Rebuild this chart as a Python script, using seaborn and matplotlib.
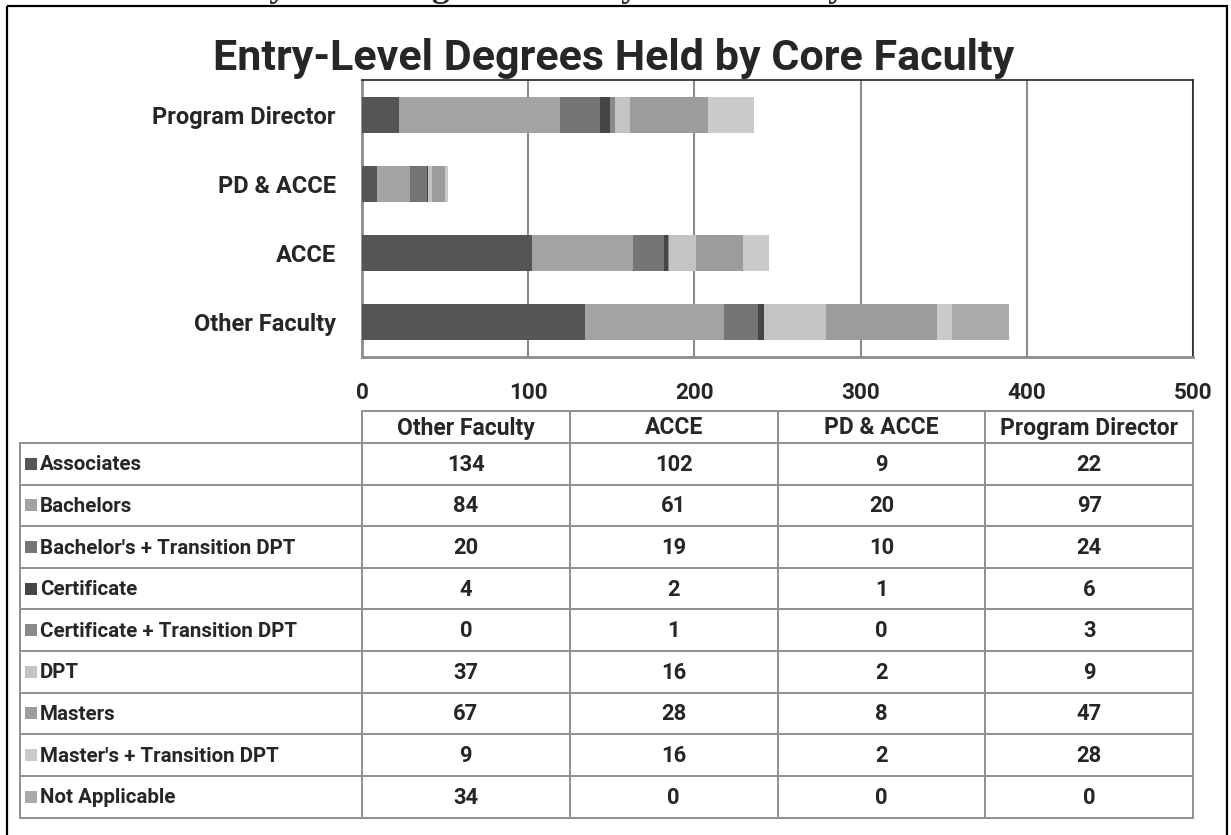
import numpy as np
import pandas as pd
import matplotlib
matplotlib.use("Agg")
import matplotlib.pyplot as plt
from matplotlib.patches import Rectangle
import seaborn as sns

# ---------------- data ----------------
groups = ["Other Faculty", "ACCE", "PD & ACCE", "Program Director"]
series = ["Associates", "Bachelors", "Bachelor's + Transition DPT", "Certificate",
          "Certificate + Transition DPT", "DPT", "Masters",
          "Master's + Transition DPT", "Not Applicable"]
associates = [134, 102, 9, 22]
bachelors = [84, 61, 20, 97]
bachelors_tdpt = [20, 19, 10, 24]
certificate = [4, 2, 1, 6]
certificate_tdpt = [0, 1, 0, 3]
dpt = [37, 16, 2, 9]
masters = [67, 28, 8, 47]
masters_tdpt = [9, 16, 2, 28]
not_applicable = [34, 0, 0, 0]
values = [associates, bachelors, bachelors_tdpt, certificate, certificate_tdpt,
          dpt, masters, masters_tdpt, not_applicable]
colors = ["#555555", "#a3a3a3", "#757575", "#454545", "#8a8a8a",
          "#c4c4c4", "#9c9c9c", "#cacaca", "#aaaaaa"]
xticks = [0, 100, 200, 300, 400, 500]
bar_order = ["Program Director", "PD & ACCE", "ACCE", "Other Faculty"]
title = "Entry-Level Degrees Held by Core Faculty"

# ---------------- style ----------------
sns.set_style("white")
FONT = ["Roboto", "DejaVu Sans"]
plt.rcParams["font.family"] = FONT
plt.rcParams["font.weight"] = "bold"

W, H = 1231, 835
fig = plt.figure(figsize=(W / 100, H / 100), dpi=100)
px = 0.72  # points per pixel


def fx(x):
    return x / W


def fy(y):
    return 1 - y / H


# background overlay axes (pixel coordinates) for the table and frame
tax = fig.add_axes([0, 0, 1, 1], zorder=0)
tax.set_xlim(0, W)
tax.set_ylim(H, 0)
tax.axis("off")

# main bar chart axes
L, R, T, B = 362, 1193, 80, 357
ax = fig.add_axes([fx(L), fy(B), fx(R - L), (B - T) / H], zorder=2)
ax.set_facecolor("none")

cum = np.cumsum(np.array(values, dtype=float), axis=0)
for i in range(len(series) - 1, -1, -1):
    df = pd.DataFrame({"group": groups, "total": cum[i]})
    sns.barplot(data=df, x="total", y="group", order=bar_order, orient="h",
                color=colors[i], saturation=1, width=0.52, linewidth=0,
                edgecolor="none", ax=ax, zorder=3)

ax.set_xlim(xticks[0], xticks[-1])
ax.set_ylim(len(bar_order) - 0.5, -0.5)
ax.set_xticks(xticks)
ax.set_xticklabels([str(t) for t in xticks], fontsize=16.2, fontweight="bold")
ax.set_xlabel("")
ax.set_ylabel("")
ax.tick_params(axis="x", length=0, pad=18)
ax.tick_params(axis="y", length=0, pad=19)
for lab in ax.get_yticklabels():
    lab.set_fontsize(17)
    lab.set_fontweight("bold")
ax.grid(axis="x", color="#8c8c8c", linewidth=1.5, zorder=1)
ax.grid(axis="y", visible=False)
ax.set_axisbelow(True)
for side in ["left", "bottom"]:
    ax.spines[side].set_color("#8c8c8c")
    ax.spines[side].set_linewidth(2)
for side in ["top", "right"]:
    ax.spines[side].set_color("#222222")
    ax.spines[side].set_linewidth(1.2)

# title
fig.text(fx(614), fy(70), title, ha="center", va="baseline",
         fontsize=31, fontweight="bold", family=FONT, zorder=5)

# cropped document heading above the frame (only descenders visible)
fig.text(fx(198), fy(-3.5), title, ha="left", va="baseline",
         fontsize=25.6, fontweight="bold", family=["Liberation Serif"])

# outer frame
tax.add_patch(Rectangle((7, 6), 1220, 860, fill=False, edgecolor="black",
                        linewidth=2.2 * px, clip_on=False))

# ---------------- data table ----------------
gc = "#929292"
glw = 2 * px
col_x = [362 + k * (1193 - 362) / 4 for k in range(5)]
hdr_top, hdr_bot = 411, 443
row_h = (817.5 - 443) / len(series)
row_y = [hdr_bot + k * row_h for k in range(len(series) + 1)]
lab_left = 20

# horizontal lines
tax.plot([col_x[0], col_x[-1]], [hdr_top, hdr_top], color=gc, lw=glw)
for y in row_y:
    tax.plot([lab_left, col_x[-1]], [y, y], color=gc, lw=glw)
# vertical lines
tax.plot([lab_left, lab_left], [row_y[0], row_y[-1]], color=gc, lw=glw)
for x in col_x:
    tax.plot([x, x], [hdr_top, row_y[-1]], color=gc, lw=glw)

# header
for k, g in enumerate(groups):
    tax.text((col_x[k] + col_x[k + 1]) / 2, (hdr_top + hdr_bot) / 2 + 1, g,
             ha="center", va="center", fontsize=16.5, fontweight="bold")

# body
for r, name in enumerate(series):
    yc = (row_y[r] + row_y[r + 1]) / 2
    tax.add_patch(Rectangle((25, yc - 6), 12, 12, facecolor=colors[r],
                            edgecolor="none"))
    tax.text(40, yc + 1, name, ha="left", va="center", fontsize=14.8,
             fontweight="bold")
    for k in range(len(groups)):
        tax.text((col_x[k] + col_x[k + 1]) / 2, yc + 1, str(values[r][k]),
                 ha="center", va="center", fontsize=15.8, fontweight="bold")

fig.savefig("out.png", dpi=100)
